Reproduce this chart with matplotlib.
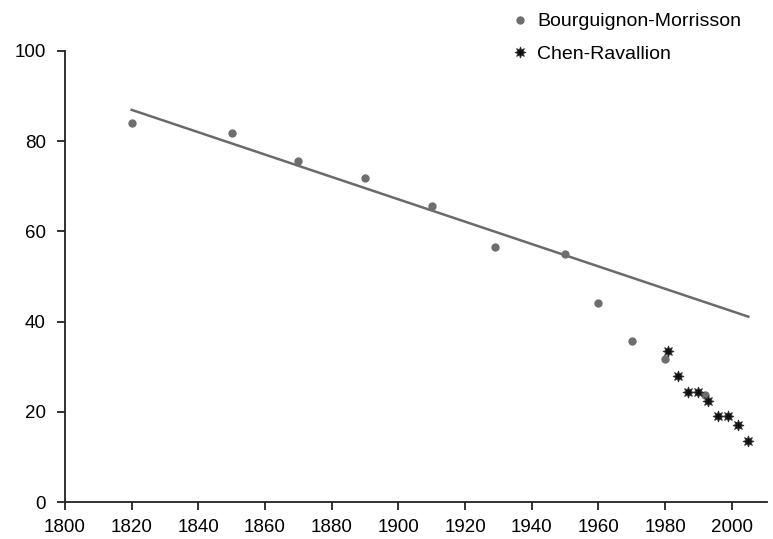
import matplotlib
matplotlib.use("Agg")
import matplotlib.pyplot as plt

plt.rcParams['font.family'] = ['Liberation Sans', 'DejaVu Sans']

# Bourguignon-Morrisson
bm_years = [1820, 1850, 1870, 1890, 1910, 1929, 1950, 1960, 1970, 1980, 1992]
bm_values = [83.9, 81.7, 75.5, 71.8, 65.6, 56.5, 54.9, 44.2, 35.7, 31.7, 23.8]

# Chen-Ravallion
cr_years = [1981, 1984, 1987, 1990, 1993, 1996, 1999, 2002, 2005]
cr_values = [33.5, 28.0, 24.5, 24.5, 22.5, 19.2, 19.2, 17.1, 13.6]

# linia trendu
trend_years = [1820, 2005]
trend_values = [86.9, 41.1]

x_ticks = list(range(1800, 2001, 20))
y_ticks = [0, 20, 40, 60, 80, 100]

fig = plt.figure(figsize=(7.73, 5.39), dpi=100)
ax = fig.add_axes([65 / 773, 36.7 / 539, (766.7 - 65) / 773, (502.3 - 50.7) / 539])

ax.plot(trend_years, trend_values, color='#6a6a6a', lw=1.8, zorder=2)
ax.plot(bm_years, bm_values, 'o', color='#6e6e6e', ms=6, mec='none',
        label='Bourguignon-Morrisson', zorder=3)
ax.plot(cr_years, cr_values, marker=(8, 1, 0), ls='none', color='#111111', ms=8,
        mec='#333333', mew=0.6, label='Chen-Ravallion', zorder=4)

ax.set_xlim(1800, 2010.5)
ax.set_ylim(0, 100)
ax.set_xticks(x_ticks)
ax.set_yticks(y_ticks)
for s in ['top', 'right']:
    ax.spines[s].set_visible(False)
for s in ['left', 'bottom']:
    ax.spines[s].set_linewidth(1.3)
    ax.spines[s].set_color('#222222')
ax.tick_params(direction='out', length=5.8, width=1.3, color='#222222',
               labelsize=13.5)
ax.tick_params(axis='x', pad=6)
ax.tick_params(axis='y', pad=8)

ax.legend(loc='upper left', bbox_to_anchor=(502 / 773, 1 - 3 / 539),
          bbox_transform=fig.transFigure, frameon=False, fontsize=14,
          handlelength=0.8, handletextpad=0.5, labelspacing=0.75, borderpad=0)

fig.savefig('out.png', dpi=100)
